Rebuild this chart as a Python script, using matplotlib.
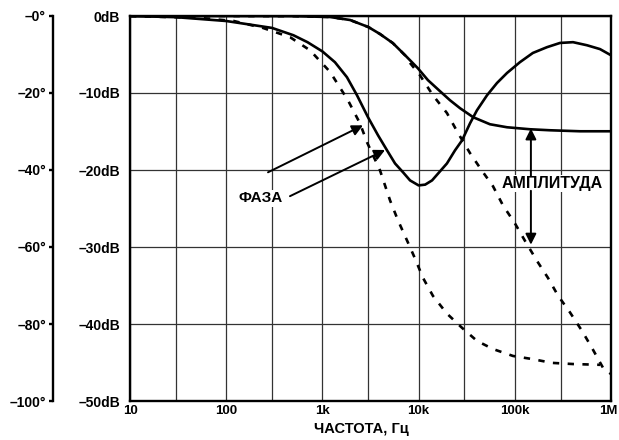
import numpy as np
import matplotlib.pyplot as plt
from matplotlib.transforms import ScaledTranslation

plt.rcParams['font.family'] = ['Liberation Sans', 'DejaVu Sans']
plt.rcParams['font.weight'] = 'bold'

# amplitude, dB
amp_f = [10, 100, 500, 1200, 1940, 3000, 3970, 5400, 7220, 9800, 12500, 16700, 21200,
         27000, 37000, 55200, 83000, 144000, 232000, 476000, 1000000]
amp_solid = [0, 0, -0.02, -0.13, -0.52, -1.43, -2.34, -3.52, -5.08, -6.77, -8.33, -9.77,
             -10.94, -11.98, -13.15, -14.06, -14.45, -14.71, -14.84, -14.97, -14.97]

amp2_f = [10, 100, 500, 1200, 1940, 3000, 3970, 5400, 7220, 8150, 10350, 11100, 14100,
          19700, 25700, 34200, 45600, 59300, 75400, 100000, 127600, 170000, 221000,
          281000, 375000, 500000, 634000, 827000, 1000000]
amp_dashed = [0, 0, -0.02, -0.13, -0.52, -1.43, -2.34, -3.52, -5.1, -6.1, -7.7, -8.3,
              -10.3, -12.6, -15.2, -17.8, -20.1, -22.1, -24.6, -26.9, -29.2, -31.8, -34.0,
              -36.3, -38.5, -40.9, -43.1, -45.7, -46.5]

# phase, degrees
ph_f = [10, 30, 100, 300, 500, 700, 1000, 1350, 1800, 2290, 2980, 3790, 4700, 5690, 6890,
        8150, 10000, 11700, 13800, 19700, 23900, 28300, 34200, 40400, 51400, 65300, 83000,
        113000, 154000, 216000, 295000, 403000, 563000, 769000, 1000000]
ph_solid = [0, -0.3, -1.3, -3.1, -5.0, -6.8, -9.2, -12.0, -15.9, -20.6, -26.3, -31.0, -34.9,
            -38.3, -40.6, -42.7, -44.0, -43.8, -42.7, -38.3, -34.9, -32.3, -27.9, -24.5,
            -20.6, -17.4, -14.8, -12.0, -9.6, -8.1, -7.0, -6.8, -7.6, -8.6, -10.2]

ph2_f = [10, 53, 120, 241, 461, 743, 1200, 1845, 2460, 2910, 3970, 5050, 6110, 7580, 9180,
         11100, 14100, 19700, 28300, 40500, 59300, 95700, 151000, 244000, 403000, 769000]
ph_dashed = [0, -0.5, -1.3, -3.1, -5.5, -8.9, -14.5, -21.9, -27.9, -32.8, -40.1, -47.9,
             -53.1, -58.3, -63.0, -68.0, -72.7, -77.3, -81.0, -84.4, -86.5, -88.3, -89.1,
             -90.1, -90.4, -90.6]

x_ticks = [10, 100, 1e3, 1e4, 1e5, 1e6]
x_labels = ['10', '100', '1k', '10k', '100k', '1M']
db_ticks = [0, -10, -20, -30, -40, -50]
db_labels = ['0dB', '–10dB', '–20dB', '–30dB', '–40dB', '–50dB']
ph_ticks = [0, -20, -40, -60, -80, -100]
ph_labels = ['–0°', '–20°', '–40°', '–60°', '–80°', '–100°']

W, H = 619, 440
fig = plt.figure(figsize=(W / 100, H / 100), dpi=100)
ax = fig.add_axes([130 / W, 1 - 401 / H, 481 / W, 385 / H])
ax.set_xscale('log')
ax.set_xlim(10, 1e6)
ax.set_ylim(-50, 0)

lw = 1.9
dash = (2.4, 3.2)
ax.plot(amp_f, amp_solid, color='black', lw=lw, zorder=3)
ax.plot(amp2_f, amp_dashed, color='black', lw=lw, dashes=dash, zorder=3)

ax.set_xticks(x_ticks)
ax.set_xticklabels(x_labels)
ax.set_xticks([30, 300, 3e3, 3e4, 3e5], minor=True)
ax.set_xticklabels([], minor=True)
ax.set_yticks(db_ticks)
ax.set_yticklabels(db_labels)
ax.grid(which='both', color='#333333', lw=0.9)
ax.tick_params(which='both', length=0, labelsize=10)
ax.tick_params(axis='x', labelsize=9.5, pad=3)
ax.tick_params(axis='y', pad=7)
for s in ax.spines.values():
    s.set_linewidth(1.7)
ax.set_xlabel('ЧАСТОТА, Гц', fontsize=10.5, fontweight='bold')
ax.xaxis.set_label_coords(0.48, -0.055)

# nudge the last x label so it stays inside the figure
last = ax.get_xticklabels()[-1]
last.set_transform(last.get_transform() + ScaledTranslation(-3 / 100, 0, fig.dpi_scale_trans))

ax2 = ax.twinx()
ax2.set_ylim(-100, 0)
ax2.plot(ph_f, ph_solid, color='black', lw=lw)
ax2.plot(ph2_f, ph_dashed, color='black', lw=lw, dashes=dash)
for k in ['right', 'top', 'bottom']:
    ax2.spines[k].set_visible(False)
ax2.spines['left'].set_visible(True)
ax2.spines['left'].set_position(('outward', 77 * 0.72))
ax2.spines['left'].set_linewidth(1.7)
ax2.yaxis.tick_left()
ax2.yaxis.set_label_position('left')
ax2.set_yticks(ph_ticks)
ax2.set_yticklabels(ph_labels)
ax2.tick_params(axis='y', direction='out', length=3, width=1.7, pad=2, labelsize=10)

arrow = dict(arrowstyle='-|>', color='black', lw=1.4, mutation_scale=16,
             shrinkA=0, shrinkB=0)
box = dict(facecolor='white', edgecolor='none', pad=1)
ax2.text(230, -47.4, 'ФАЗА', ha='center', va='center', fontsize=11,
         fontweight='bold', bbox=box)
ax2.annotate('', xy=(2640, -28.4), xytext=(272, -40.6), arrowprops=arrow)
ax2.annotate('', xy=(4480, -34.8), xytext=(460, -46.8), arrowprops=arrow)
ax2.text(244000, -43.5, 'АМПЛИТУДА', ha='center', va='center', fontsize=11.5,
         fontweight='bold', bbox=box)
ax2.annotate('', xy=(147000, -29.2), xytext=(147000, -41.6), arrowprops=arrow)
ax2.annotate('', xy=(147000, -59.4), xytext=(147000, -45.4), arrowprops=arrow)

fig.savefig('out.png', dpi=100)
